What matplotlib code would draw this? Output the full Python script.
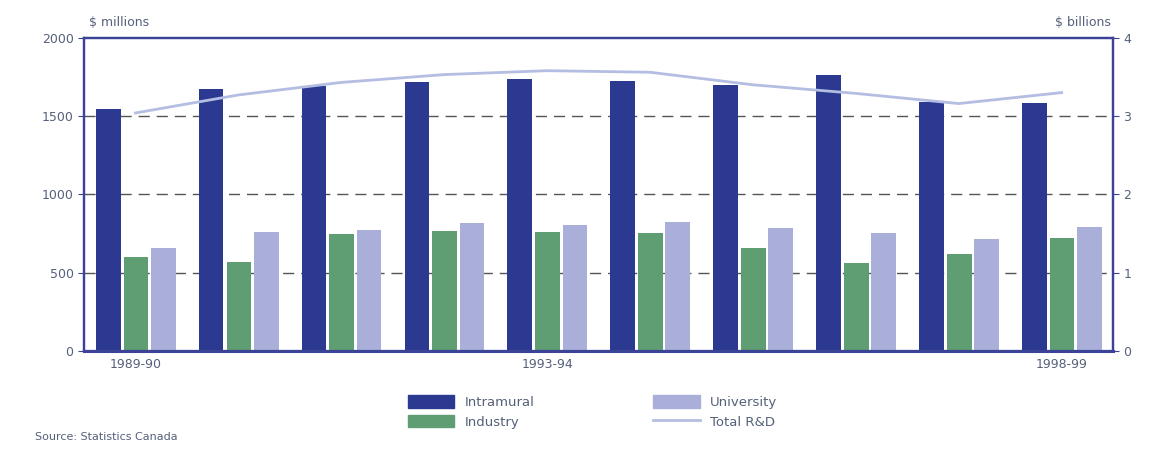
import matplotlib
matplotlib.use("Agg")
import matplotlib.pyplot as plt
import numpy as np
from matplotlib.patches import Patch
from matplotlib.lines import Line2D

years = ["1989-90", "1990-91", "1991-92", "1992-93", "1993-94",
         "1994-95", "1995-96", "1996-97", "1997-98", "1998-99"]
intramural = [1545, 1670, 1692, 1718, 1734, 1726, 1698, 1762, 1593, 1582]
industry = [603, 567, 750, 765, 759, 753, 660, 565, 618, 724]
university = [655, 759, 772, 815, 802, 823, 787, 751, 713, 791]
total_rd = [3.04, 3.27, 3.43, 3.53, 3.58, 3.56, 3.40, 3.29, 3.16, 3.30]
shown_labels = {0: "1989-90", 4: "1993-94", 9: "1998-99"}

c_intra = "#2b3990"
c_ind = "#5f9e72"
c_uni = "#a9afd9"
c_total = "#b4bde2"
c_spine = "#3a4395"
c_text = "#55607a"

fig = plt.figure(figsize=(11.51, 4.5), dpi=100)
ax = fig.add_axes([0.073, 0.22, 0.894, 0.696])
x = np.arange(len(years))
w = 0.24
ax.bar(x - 0.265, intramural, w, color=c_intra, zorder=3)
ax.bar(x + 0.005, industry, w, color=c_ind, zorder=3)
ax.bar(x + 0.27, university, w, color=c_uni, zorder=3)
ax.set_xlim(-0.5, 9.5)
ax.set_ylim(0, 2000)
ax.set_yticks([0, 500, 1000, 1500, 2000])
ax.set_yticklabels(["0", "500", "1000", "1500", "2000"])
ax.set_xticks(list(shown_labels.keys()))
ax.set_xticklabels(list(shown_labels.values()))
ax.tick_params(axis="x", length=0, pad=5, labelsize=9, labelcolor=c_text)
ax.tick_params(axis="y", length=4, color=c_spine, labelsize=9, labelcolor=c_text)
for yv in [500, 1000, 1500]:
    ax.axhline(yv, color="#555555", lw=1.0, ls=(0, (8, 5)), zorder=1)
for s in ax.spines.values():
    s.set_color(c_spine)
    s.set_linewidth(1.6)
ax.spines["bottom"].set_linewidth(2.2)

ax2 = ax.twinx()
ax2.plot(x, total_rd, color=c_total, lw=2, zorder=4)
ax2.set_ylim(0, 4)
ax2.set_yticks([0, 1, 2, 3, 4])
ax2.tick_params(axis="y", length=4, color=c_spine, labelsize=9, labelcolor=c_text)
for s in ax2.spines.values():
    s.set_color(c_spine)
    s.set_linewidth(1.6)

fig.text(0.077, 0.935, "$ millions", fontsize=9, color=c_text, ha="left", va="bottom")
fig.text(0.965, 0.935, "$ billions", fontsize=9, color=c_text, ha="right", va="bottom")
fig.text(0.03, 0.03, "Source: Statistics Canada", fontsize=8, color=c_text, ha="left", va="center")

handles = [Patch(color=c_intra), Patch(color=c_ind), Patch(color=c_uni),
           Line2D([0], [0], color=c_total, lw=2)]
labels = ["Intramural", "Industry", "University", "Total R&D"]
fig.legend(handles, labels, ncol=2, loc="center", bbox_to_anchor=(0.515, 0.085),
           frameon=False, fontsize=9.5, labelcolor=c_text, handlelength=3.5,
           handleheight=1.1, columnspacing=9, labelspacing=0.45)

fig.savefig("out.png", dpi=100)
